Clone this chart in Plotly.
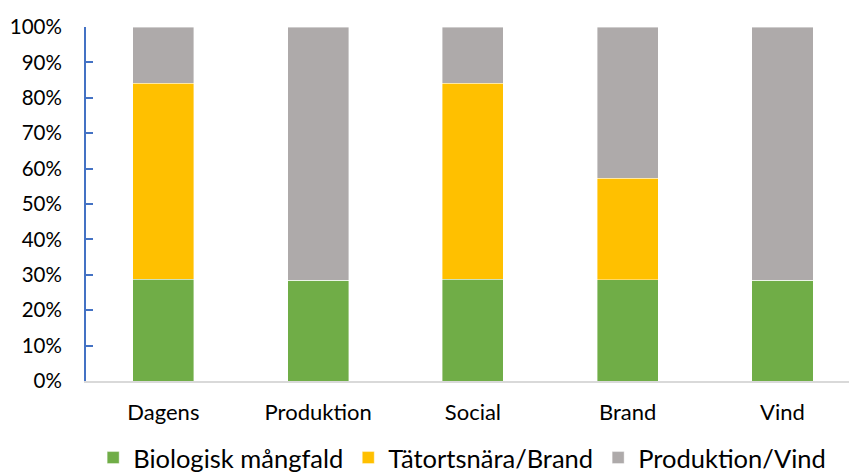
import plotly.graph_objects as go

categories = ["Dagens", "Produktion", "Social", "Brand", "Vind"]
biologisk = [0.287, 0.285, 0.287, 0.286, 0.285]
tatort = [0.554, 0.0, 0.554, 0.287, 0.0]
produktion = [0.159, 0.715, 0.159, 0.427, 0.715]

series = [
    ("Biologisk mångfald", biologisk, "#70AD47"),
    ("Tätortsnära/Brand", tatort, "#FFC000"),
    ("Produktion/Vind", produktion, "#AEAAAA"),
]

font_family = "Lato, Carlito, 'Open Sans', sans-serif"

fig = go.Figure()
for name, vals, color in series:
    fig.add_trace(go.Bar(
        x=categories, y=vals, name=name,
        marker=dict(color=color, line=dict(color="rgba(255,255,255,0.5)", width=0.8)),
    ))

fig.update_layout(
    width=849, height=472,
    barmode="stack",
    bargap=0.605,
    plot_bgcolor="white",
    paper_bgcolor="white",
    margin=dict(l=86, r=0, t=27, b=91, autoexpand=False),
    font=dict(family=font_family, color="#000000"),
    showlegend=True,
    legend=dict(
        orientation="h",
        x=0.493, xanchor="center",
        y=-0.2175, yanchor="middle",
        font=dict(size=25.5, family=font_family, color="#000000"),
        itemwidth=30,
        traceorder="normal",
    ),
)

fig.update_xaxes(
    type="category",
    range=[-0.5, 4.43],
    showline=True, linecolor="#D9D9D9", linewidth=2,
    showgrid=False, ticks="",
    tickfont=dict(size=22, family=font_family, color="#000000"),
    ticklabelstandoff=11,
)

fig.update_yaxes(
    range=[0, 1],
    dtick=0.1, tick0=0,
    tickformat=".0%",
    showline=True, linecolor="#4472C4", linewidth=2,
    ticks="inside", ticklen=7, tickwidth=2, tickcolor="#4472C4",
    showgrid=False, zeroline=False,
    tickfont=dict(size=20.5, family=font_family, color="#000000"),
    ticklabelstandoff=18,
)

fig.write_html("out.html")
